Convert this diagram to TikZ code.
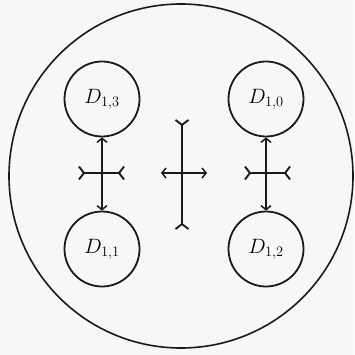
\documentclass[tikz,border=0pt]{standalone}
\usepackage{amsmath,amssymb}
\usepackage{tikz}
\usepackage{xcolor}
\usetikzlibrary{arrows.meta,positioning,calc}
\definecolor{ink}  {HTML}{1A1A1A}
\definecolor{paper}{HTML}{F7F7F7}
\tikzset{
  disk/.style   ={circle, draw=ink, line width=1.8pt, minimum size=75pt,
                  inner sep=0pt, font=\fontsize{21}{25}\selectfont},
  outer/.style  ={draw=ink, line width=1.6pt},
  link/.style   ={{Straight Barb[length=4pt,width=10pt]}-{Straight Barb[length=4pt,width=10pt]},
                  line width=1.5pt, color=ink},
  bar/.style    ={{Straight Barb[reversed,length=5pt,width=13pt]}-{Straight Barb[reversed,length=5pt,width=13pt]},
                  line width=1.9pt, color=ink},
}

\begin{document}
\begin{tikzpicture}[x=1pt,y=-1pt]
  \fill[paper] (0,0) rectangle (354,355);
  \useasboundingbox (0,0) rectangle (354,355);
  % enclosing circle
  \draw[outer] (181,176) circle[radius=172];
  % the four disks
  \node[disk] (d13) at (102,99)  {$D_{1,3}$};
  \node[disk] (d10) at (266,99)  {$D_{1,0}$};
  \node[disk] (d11) at (102,249) {$D_{1,1}$};
  \node[disk] (d12) at (266,249) {$D_{1,2}$};
  % free ends of the crossbars
  \coordinate (lw) at (78,173);  \coordinate (le) at (125,173);
  \coordinate (rw) at (244,173); \coordinate (re) at (291,173);
  \coordinate (cn) at (182,119); \coordinate (cs) at (182,230);
  \coordinate (cw) at (161,173); \coordinate (ce) at (207,173);
  % left pair
  \draw[link] (d13) -- (d11);
  \draw[bar]  (lw) -- (le);
  % right pair
  \draw[link] (d10) -- (d12);
  \draw[bar]  (rw) -- (re);
  % centre cross
  \draw[bar]  (cn) -- (cs);
  \draw[link] (cw) -- (ce);
\end{tikzpicture}
\end{document}
